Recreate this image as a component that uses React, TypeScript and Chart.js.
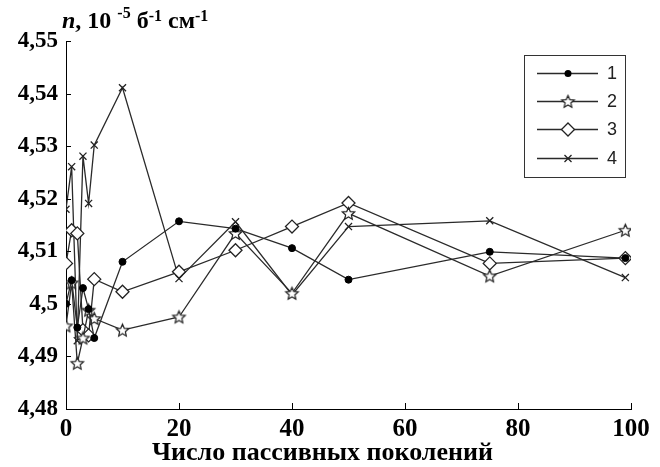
import React, { useEffect, useRef } from "react";
import { Chart, registerables } from "chart.js";

Chart.register(...registerables);

// Passive generations (x) and measured values for the four series
const generations = [0, 1, 2, 3, 4, 5, 10, 20, 30, 40, 50, 75, 99];
const series1 = [4.5, 4.5045, 4.4955, 4.503, 4.499, 4.4935, 4.508, 4.5157, 4.5143, 4.5106, 4.5046, 4.5099, 4.5087];
const series2 = [4.4958, 4.504, 4.4887, 4.4935, 4.4988, 4.4972, 4.495, 4.4975, 4.5134, 4.502, 4.5172, 4.5053, 4.514];
const series3 = [4.5077, 4.514, 4.5134, 4.495, 4.494, 4.5047, 4.5023, 4.5061, 4.5102, 4.5147, 4.5192, 4.5077, 4.5087];
const series4 = [4.518, 4.5261, 4.493, 4.5281, 4.5191, 4.5302, 4.5411, 4.5048, 4.5156, 4.5017, 4.5147, 4.5158, 4.505];
const seriesLabels = ["1", "2", "3", "4"];

const xTicks = [0, 20, 40, 60, 80, 100];
const yTicks = [4.48, 4.49, 4.5, 4.51, 4.52, 4.53, 4.54, 4.55];

const xTitle = "Число пассивных поколений";

const LINE = "#2a2a2a";
const SERIF = "'Liberation Serif', 'Times New Roman', serif";

function makeStar(outer: number, inner: number): HTMLCanvasElement {
  const size = Math.ceil(outer * 2 + 4);
  const c = document.createElement("canvas");
  c.width = size;
  c.height = size;
  const ctx = c.getContext("2d")!;
  const cx = size / 2;
  const cy = size / 2 + 0.5;
  ctx.beginPath();
  for (let i = 0; i < 10; i++) {
    const r = i % 2 === 0 ? outer : inner;
    const a = -Math.PI / 2 + (i * Math.PI) / 5;
    const px = cx + r * Math.cos(a);
    const py = cy + r * Math.sin(a);
    if (i === 0) ctx.moveTo(px, py);
    else ctx.lineTo(px, py);
  }
  ctx.closePath();
  ctx.fillStyle = "#fff";
  ctx.fill();
  ctx.strokeStyle = "#222";
  ctx.lineWidth = 1.2;
  ctx.stroke();
  return c;
}

function drawMarker(ctx: CanvasRenderingContext2D, kind: number, x: number, y: number, star: HTMLCanvasElement) {
  ctx.save();
  ctx.strokeStyle = "#222";
  ctx.lineWidth = 1.3;
  if (kind === 0) {
    ctx.beginPath();
    ctx.arc(x, y, 3.5, 0, Math.PI * 2);
    ctx.fillStyle = "#000";
    ctx.fill();
  } else if (kind === 1) {
    ctx.drawImage(star, x - star.width / 2, y - star.height / 2);
  } else if (kind === 2) {
    const r = 6.5;
    ctx.beginPath();
    ctx.moveTo(x, y - r);
    ctx.lineTo(x + r, y);
    ctx.lineTo(x, y + r);
    ctx.lineTo(x - r, y);
    ctx.closePath();
    ctx.fillStyle = "#fff";
    ctx.fill();
    ctx.stroke();
  } else {
    const d = 3.5;
    ctx.beginPath();
    ctx.moveTo(x - d, y - d);
    ctx.lineTo(x + d, y + d);
    ctx.moveTo(x + d, y - d);
    ctx.lineTo(x - d, y + d);
    ctx.stroke();
  }
  ctx.restore();
}

function fmtY(v: number): string {
  return String(parseFloat(v.toFixed(2))).replace(".", ",");
}

export default function App() {
  const ref = useRef<HTMLCanvasElement | null>(null);

  useEffect(() => {
    if (!ref.current) return;
    const star = makeStar(6.5, 3);
    const all = [series1, series2, series3, series4];
    const styles: any[] = [
      { pointStyle: "circle", pointRadius: 3.5, pointBackgroundColor: "#000", pointBorderColor: "#000", pointBorderWidth: 1 },
      { pointStyle: star, pointRadius: 6.5, pointBackgroundColor: "#fff", pointBorderColor: "#222", pointBorderWidth: 1.2 },
      { pointStyle: "rectRot", pointRadius: 6.5, pointBackgroundColor: "#fff", pointBorderColor: "#222", pointBorderWidth: 1.3 },
      { pointStyle: "crossRot", pointRadius: 5, pointBackgroundColor: "#fff", pointBorderColor: "#222", pointBorderWidth: 1.3 },
    ];

    const decorations = {
      id: "decorations",
      afterDraw(chart: any) {
        const { ctx, chartArea, scales } = chart;
        const xs = scales.x;
        const ys = scales.y;
        ctx.save();
        // inward tick marks
        ctx.strokeStyle = "#000";
        ctx.lineWidth = 1;
        for (const v of yTicks) {
          const py = Math.round(ys.getPixelForValue(v)) + 0.5;
          ctx.beginPath();
          ctx.moveTo(chartArea.left, py);
          ctx.lineTo(chartArea.left + 5, py);
          ctx.stroke();
        }
        for (const v of xTicks) {
          if (v === 0) continue;
          const px = Math.round(xs.getPixelForValue(v)) + 0.5;
          ctx.beginPath();
          ctx.moveTo(px, chartArea.bottom);
          ctx.lineTo(px, chartArea.bottom - 6);
          ctx.stroke();
        }

        // y-axis heading with superscripts
        ctx.fillStyle = "#000";
        ctx.textBaseline = "alphabetic";
        ctx.textAlign = "left";
        let tx = 62;
        const base = 28;
        const part = (text: string, font: string, dy: number) => {
          ctx.font = font;
          ctx.fillText(text, tx, base + dy);
          tx += ctx.measureText(text).width;
        };
        part("n", `italic bold 24px ${SERIF}`, 0);
        part(", 10 ", `bold 24px ${SERIF}`, 0);
        part("-5", `bold 16px ${SERIF}`, -10);
        part(" б", `bold 24px ${SERIF}`, 0);
        part("-1", `bold 16px ${SERIF}`, -7);
        part(" см", `bold 24px ${SERIF}`, 0);
        part("-1", `bold 16px ${SERIF}`, -7);

        // x-axis title
        ctx.font = `bold 26px ${SERIF}`;
        ctx.textAlign = "left";
        ctx.fillText(xTitle, 152, 460);

        // legend box
        const bx = 524, by = 55, bw = 101, bh = 122;
        ctx.strokeStyle = "#333";
        ctx.lineWidth = 1;
        ctx.strokeRect(bx + 0.5, by + 0.5, bw, bh);
        const rows = [73, 101, 129, 158];
        ctx.font = "18px 'Liberation Sans', Arial, sans-serif";
        ctx.textAlign = "left";
        ctx.textBaseline = "middle";
        rows.forEach((ry, i) => {
          ctx.strokeStyle = LINE;
          ctx.lineWidth = 1.3;
          ctx.beginPath();
          ctx.moveTo(537, ry + 0.5);
          ctx.lineTo(598, ry + 0.5);
          ctx.stroke();
          drawMarker(ctx, i, 568, ry + 0.5, star);
          ctx.fillStyle = "#222";
          ctx.fillText(seriesLabels[i], 607, ry + 1);
        });
        ctx.restore();
      },
    };

    const chart = new Chart(ref.current, {
      type: "line",
      data: {
        datasets: all.map((vals, i) => ({
          label: seriesLabels[i],
          data: generations.map((g, j) => ({ x: g, y: vals[j] })),
          borderColor: LINE,
          borderWidth: 1.3,
          backgroundColor: "#fff",
          tension: 0,
          fill: false,
          ...styles[i],
        })),
      },
      options: {
        responsive: false,
        animation: false,
        maintainAspectRatio: false,
        layout: { padding: { left: 0, right: 29, top: 41, bottom: 0 } },
        plugins: { legend: { display: false }, title: { display: false }, tooltip: { enabled: false } },
        scales: {
          x: {
            type: "linear",
            min: 0,
            max: 100,
            afterBuildTicks: (s: any) => {
              s.ticks = xTicks.map((v) => ({ value: v }));
            },
            afterFit: (s: any) => {
              s.height = 58;
            },
            grid: { display: false, drawTicks: false },
            border: { display: true, color: "#000", width: 1 },
            ticks: {
              color: "#000",
              padding: 6,
              maxRotation: 0,
              font: { family: SERIF, weight: "bold", size: 25 },
              callback: (v: any) => String(v),
            },
          },
          y: {
            type: "linear",
            min: 4.48,
            max: 4.55,
            afterBuildTicks: (s: any) => {
              s.ticks = yTicks.map((v) => ({ value: v }));
            },
            afterFit: (s: any) => {
              s.width = 66;
            },
            grid: { display: false, drawTicks: false },
            border: { display: true, color: "#000", width: 1 },
            ticks: {
              color: "#000",
              padding: 8,
              font: { family: SERIF, weight: "bold", size: 23 },
              callback: (v: any) => fmtY(Number(v)),
            },
          },
        },
      } as any,
      plugins: [decorations],
    });

    return () => chart.destroy();
  }, []);

  return (
    <div style={{ position: "fixed", left: 0, top: 0, width: 660, height: 467, background: "#fff" }}>
      <canvas ref={ref} width={660} height={467} style={{ width: 660, height: 467 }} />
    </div>
  );
}
